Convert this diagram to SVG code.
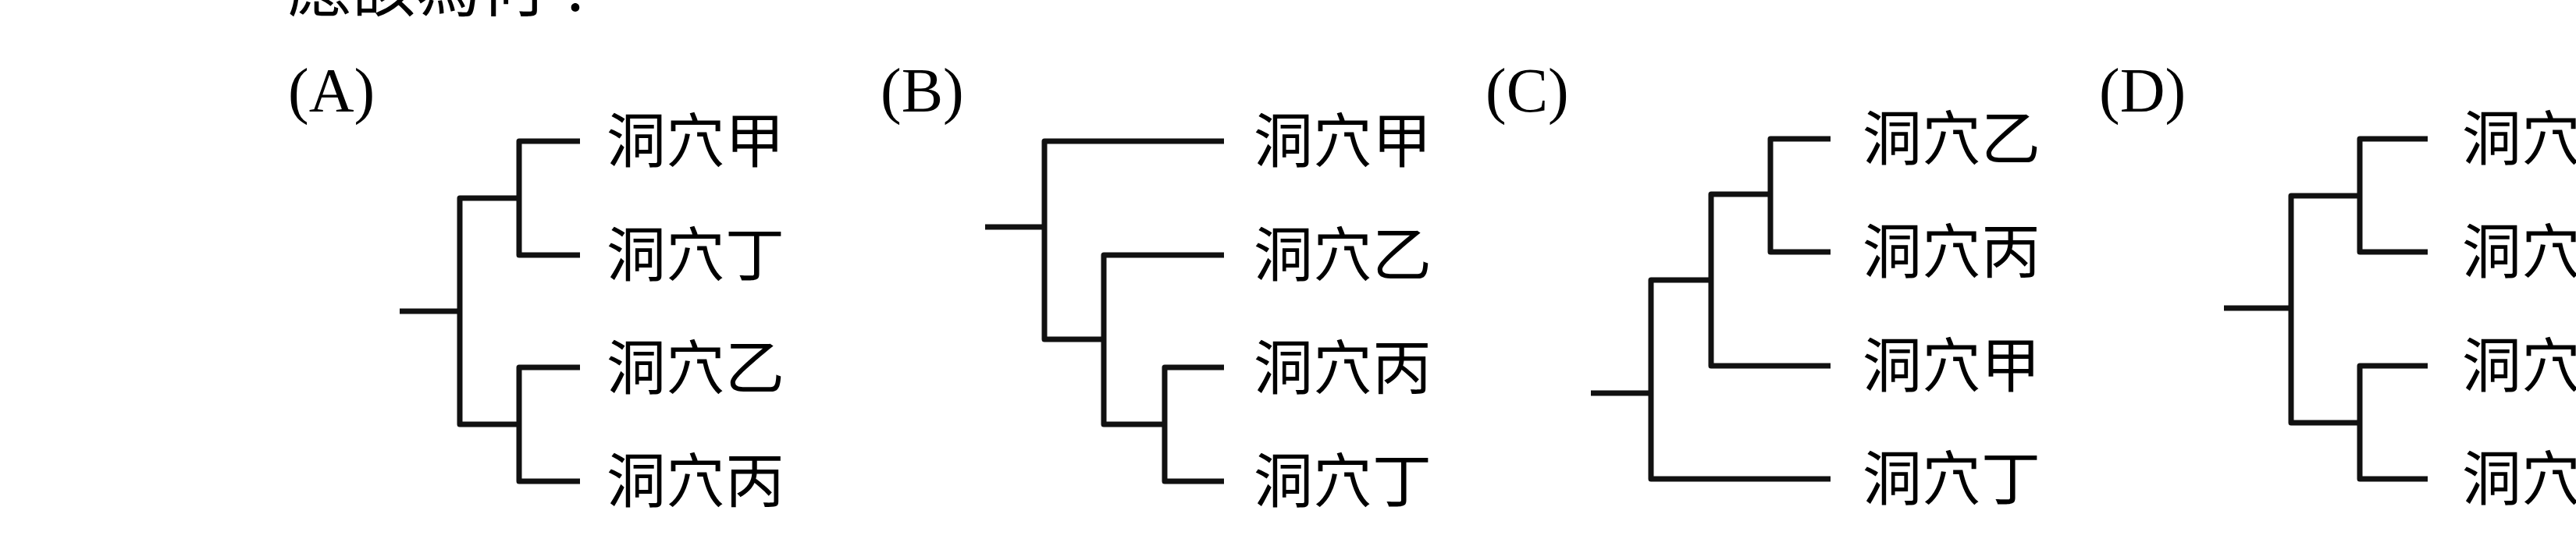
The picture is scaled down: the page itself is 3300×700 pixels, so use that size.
<svg xmlns="http://www.w3.org/2000/svg" width="3300" height="700" viewBox="0 0 3300 700">
<style>
.t{font-family:"Liberation Serif","Noto Sans CJK TC",serif;font-size:76px;fill:#000}
.p{font-family:"Liberation Serif",serif;font-size:80px;fill:#000}
.h{font-family:"Liberation Serif","Noto Sans CJK TC",serif;font-size:82px;fill:#000}
.e{fill:none;stroke:#111;stroke-width:7;stroke-linejoin:round}
</style>
<rect width="3300" height="700" fill="#fff"/>
<text class="h" x="369" y="14">應該為何？</text>
<g id="A">
<text class="p" x="369" y="143">(A)</text>
<text class="t" x="777" y="208">洞穴甲</text>
<text class="t" x="777" y="354">洞穴丁</text>
<text class="t" x="777" y="499">洞穴乙</text>
<text class="t" x="777" y="644">洞穴丙</text>
</g>
<g id="B">
<text class="p" x="1128" y="143">(B)</text>
<text class="t" x="1606" y="208">洞穴甲</text>
<text class="t" x="1606" y="354">洞穴乙</text>
<text class="t" x="1606" y="499">洞穴丙</text>
<text class="t" x="1606" y="644">洞穴丁</text>
</g>
<g id="C">
<text class="p" x="1903" y="143">(C)</text>
<text class="t" x="2386" y="205">洞穴乙</text>
<text class="t" x="2386" y="350">洞穴丙</text>
<text class="t" x="2386" y="496">洞穴甲</text>
<text class="t" x="2386" y="641">洞穴丁</text>
</g>
<g id="D">
<text class="p" x="2689" y="143">(D)</text>
<text class="t" x="3154" y="205">洞穴甲</text>
<text class="t" x="3154" y="350">洞穴丁</text>
<text class="t" x="3154" y="496">洞穴乙</text>
<text class="t" x="3154" y="641">洞穴丙</text>
</g>
<g id="connectors">
<path class="e" d="M512 399H589M743 181H665V327H743M665 254H589V544H665M743 471H665V617H743"/>
<path class="e" d="M1262 291H1338M1568 181H1338V435H1414M1568 327H1414V544H1492M1568 471H1492V617H1568"/>
<path class="e" d="M2038 504H2115M2345 178H2268V323H2345M2268 249H2192V469H2345M2192 359H2115V614H2345"/>
<path class="e" d="M2849 395H2935M3110 178H3023V323H3110M3023 251H2935V542H3023M3110 469H3023V614H3110"/>
</g>
</svg>
